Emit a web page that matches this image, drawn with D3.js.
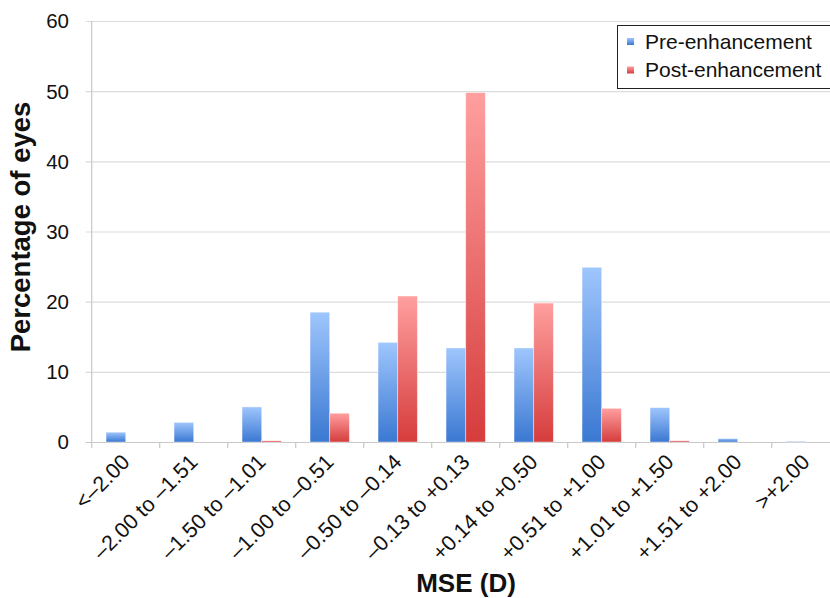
<!DOCTYPE html>
<html>
<head>
<meta charset="utf-8">
<script src="https://cdn.jsdelivr.net/npm/d3@7/dist/d3.min.js"></script>
<style>
  html, body { margin: 0; padding: 0; background: #fff; }
  svg { display: block; font-family: "Liberation Sans", Arial, sans-serif; }
</style>
</head>
<body>
<svg id="chart" width="830" height="598"></svg>
<script>
const categories = ["<\u20132.00", "\u20132.00 to \u20131.51", "\u20131.50 to \u20131.01", "\u20131.00 to \u20130.51",
  "\u20130.50 to \u20130.14", "\u20130.13 to +0.13", "+0.14 to +0.50", "+0.51 to +1.00",
  "+1.01 to +1.50", "+1.51 to +2.00", ">+2.00"];
const preValues  = [1.4, 2.8, 5.0, 18.5, 14.2, 13.4, 13.4, 24.9, 4.9, 0.5, 0.1];
const postValues = [0, 0, 0.2, 4.1, 20.8, 49.8, 19.8, 4.8, 0.2, 0, 0];
const seriesNames = ["Pre-enhancement", "Post-enhancement"];
const yTicks = [0, 10, 20, 30, 40, 50, 60];

const svg = d3.select("#chart");
const plotLeft = 91.7, plotRight = 839.7, plotTop = 21, plotBottom = 442;

const x = d3.scaleBand().domain(categories).range([plotLeft, plotRight]).paddingInner(0).paddingOuter(0);
const y = d3.scaleLinear().domain([0, 60]).range([plotBottom, plotTop]);
const bw = x.bandwidth();
const barW = bw * 0.289;

const defs = svg.append("defs");
function grad(id, c1, c2) {
  const g = defs.append("linearGradient").attr("id", id).attr("x1", 0).attr("y1", 0).attr("x2", 0).attr("y2", 1);
  g.append("stop").attr("offset", "0%").attr("stop-color", c1);
  g.append("stop").attr("offset", "100%").attr("stop-color", c2);
}
grad("gBlue", "#9fc6fd", "#3a78d2");
grad("gRed", "#ff9f9f", "#d63c3c");

// gridlines
svg.append("g").selectAll("line").data(yTicks).join("line")
  .attr("x1", plotLeft - 6).attr("x2", 830)
  .attr("y1", d => y(d) + 0.5).attr("y2", d => y(d) + 0.5)
  .attr("stroke", d => d === 0 ? "#c8c8c8" : "#dcdcdc").attr("stroke-width", 1.2);

// y axis line
svg.append("line").attr("x1", plotLeft).attr("x2", plotLeft).attr("y1", plotTop).attr("y2", plotBottom + 0.5)
  .attr("stroke", "#c8c8c8").attr("stroke-width", 1.2);

// y tick labels
svg.append("g").selectAll("text").data(yTicks).join("text")
  .attr("x", 69).attr("y", d => y(d)).attr("dy", "0.36em")
  .attr("text-anchor", "end").attr("font-size", 20.5).attr("fill", "#111")
  .text(d => d);

// x tick marks at band boundaries
const bounds = categories.map(c => x(c));
svg.append("g").selectAll("line").data(bounds).join("line")
  .attr("x1", d => d).attr("x2", d => d).attr("y1", plotBottom).attr("y2", plotBottom + 6)
  .attr("stroke", "#c8c8c8").attr("stroke-width", 1.2);

// bars
const barsG = svg.append("g");
barsG.selectAll("rect.pre").data(categories).join("rect").attr("class", "pre")
  .attr("x", c => x(c) + bw / 2 - barW)
  .attr("width", barW)
  .attr("y", (c, i) => y(preValues[i]))
  .attr("height", (c, i) => plotBottom - y(preValues[i]))
  .attr("fill", "url(#gBlue)")
  .attr("stroke", "rgba(255,255,255,0.5)").attr("stroke-width", 0.8);
barsG.selectAll("rect.post").data(categories).join("rect").attr("class", "post")
  .attr("x", c => x(c) + bw / 2)
  .attr("width", barW)
  .attr("y", (c, i) => y(postValues[i]))
  .attr("height", (c, i) => plotBottom - y(postValues[i]))
  .attr("fill", "url(#gRed)")
  .attr("stroke", "rgba(255,255,255,0.5)").attr("stroke-width", 0.8)
  .attr("display", (c, i) => postValues[i] > 0 ? null : "none");

// x tick labels rotated
svg.append("g").selectAll("text").data(categories).join("text")
  .attr("transform", c => `translate(${x(c) + bw / 2},${plotBottom + 16}) rotate(-45)`)
  .attr("text-anchor", "end").attr("dy", "0.35em")
  .attr("font-size", 21.5).attr("fill", "#111")
  .text(c => c);

// axis titles
svg.append("text")
  .attr("transform", `translate(30,227) rotate(-90)`)
  .attr("text-anchor", "middle").attr("font-size", 27.5).attr("font-weight", "bold").attr("fill", "#111")
  .text("Percentage of eyes");
svg.append("text")
  .attr("x", 466).attr("y", 592)
  .attr("text-anchor", "middle").attr("font-size", 26).attr("font-weight", "bold").attr("fill", "#111")
  .text("MSE (D)");

// legend
const lg = svg.append("g");
lg.append("rect").attr("x", 617.5).attr("y", 25.5).attr("width", 220).attr("height", 63)
  .attr("fill", "#fff").attr("stroke", "#222").attr("stroke-width", 1);
seriesNames.forEach((n, i) => {
  lg.append("rect").attr("x", 627).attr("y", 38 + i * 28.5).attr("width", 7).attr("height", 7)
    .attr("fill", i === 0 ? "url(#gBlue)" : "url(#gRed)");
  lg.append("text").attr("x", 645).attr("y", 48.5 + i * 28.5)
    .attr("font-size", 21).attr("fill", "#111").text(n);
});
</script>
</body>
</html>
